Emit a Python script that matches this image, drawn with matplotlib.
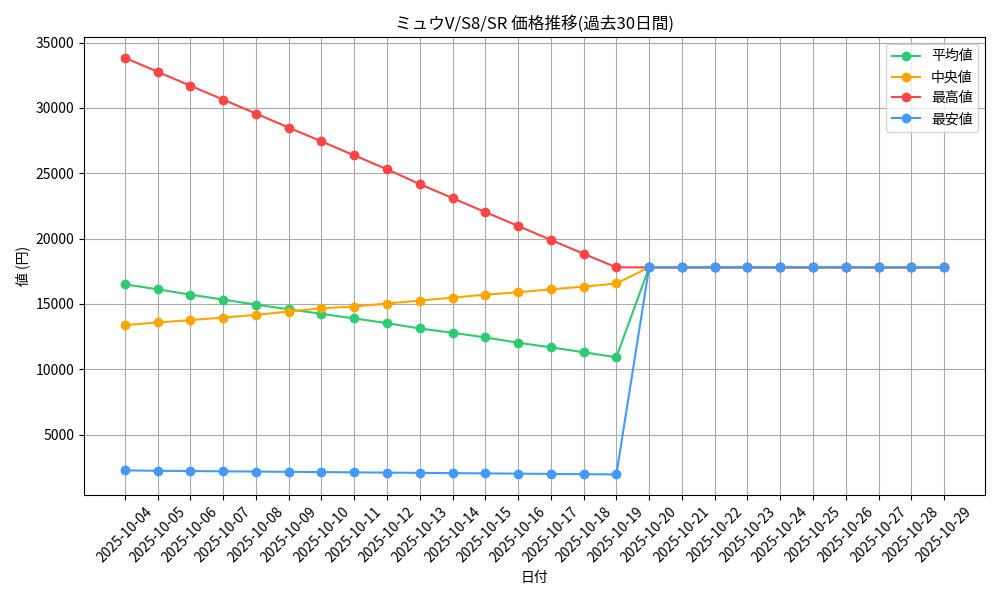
import matplotlib
matplotlib.use('Agg')
import matplotlib.pyplot as plt

plt.rcParams['font.family'] = ['Noto Sans CJK JP', 'DejaVu Sans']

dates = ['2025-10-%02d' % d for d in range(4, 30)]

avg = [16500, 16120, 15710, 15330, 14950, 14590, 14240, 13890, 13530, 13120,
       12790, 12440, 12030, 11680, 11300, 10920,
       17800, 17800, 17800, 17800, 17800, 17800, 17800, 17800, 17800, 17800]
med = [13380, 13580, 13760, 13960, 14160, 14420, 14670, 14800, 15030, 15260,
       15480, 15710, 15890, 16120, 16320, 16570,
       17800, 17800, 17800, 17800, 17800, 17800, 17800, 17800, 17800, 17800]
high = [33840, 32770, 31700, 30640, 29570, 28500, 27440, 26370, 25310, 24170,
        23100, 22030, 20970, 19900, 18840, 17800,
        17800, 17800, 17800, 17800, 17800, 17800, 17800, 17800, 17800, 17800]
low = [2260, 2230, 2210, 2190, 2170, 2150, 2130, 2110, 2090, 2070,
       2050, 2030, 2010, 1990, 1970, 1950,
       17800, 17800, 17800, 17800, 17800, 17800, 17800, 17800, 17800, 17800]

fig, ax = plt.subplots(figsize=(10, 6), dpi=100)
ax.plot(dates, avg, marker='o', color='#2ecc71', label='平均値')
ax.plot(dates, med, marker='o', color='#ffa500', label='中央値')
ax.plot(dates, high, marker='o', color='#ff4444', label='最高値')
ax.plot(dates, low, marker='o', color='#4499ff', label='最安値')

ax.set_title('ミュウV/S8/SR 価格推移(過去30日間)')
ax.set_xlabel('日付')
ax.set_ylabel('値 (円)')
ax.grid(True, color='#aaaaaa')
ax.legend(loc='upper right')
plt.xticks(rotation=45)
plt.tight_layout()
plt.savefig('out.png')
